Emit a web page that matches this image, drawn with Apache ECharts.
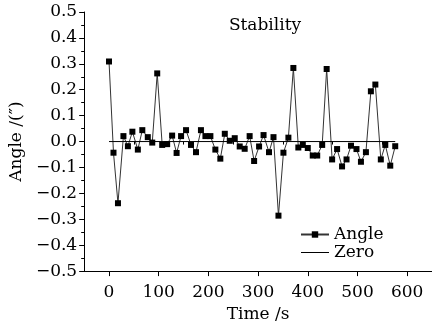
<!DOCTYPE html>
<html>
<head>
<meta charset="utf-8">
<script src="https://cdn.jsdelivr.net/npm/echarts@6/dist/echarts.min.js"></script>
<style>
html,body{margin:0;padding:0;background:#fff;}
#c{width:432px;height:328px;}
</style>
</head>
<body>
<div id="c"></div>
<script>
const titleText = 'Stability';
const xName = 'Time /s';
const yName = 'Angle /(\u2033)';
const seriesNames = ['Angle', 'Zero'];
const times = [0, 9, 18, 29, 38, 47, 58, 67, 78, 87, 97, 107, 117, 127, 136, 145, 155, 165, 175, 185,
  194, 204, 214, 224, 233, 243, 253, 263, 273, 283, 292, 302, 311, 322, 331, 341, 351, 361, 371, 381,
  390, 400, 410, 419, 429, 438, 449, 459, 469, 478, 487, 498, 507, 517, 527, 536, 547, 556, 566, 576];
const angles = [0.309, -0.043, -0.238, 0.021, -0.018, 0.038, -0.031, 0.044, 0.017, -0.004,
  0.263, -0.013, -0.010, 0.023, -0.044, 0.021, 0.044, -0.013, -0.041, 0.044,
  0.021, 0.021, -0.031, -0.066, 0.030, 0.003, 0.013, -0.019, -0.028, 0.021,
  -0.075, -0.019, 0.025, -0.041, 0.017, -0.286, -0.043, 0.015, 0.284, -0.023,
  -0.013, -0.025, -0.054, -0.054, -0.013, 0.280, -0.069, -0.029, -0.096, -0.069,
  -0.016, -0.029, -0.078, -0.041, 0.194, 0.220, -0.069, -0.013, -0.093, -0.018];
const zeroTimes = [0, 576];
const zeroValues = [0, 0];
const xMajorTicks = [0, 100, 200, 300, 400, 500, 600];
const xMinorTicks = [50, 150, 250, 350, 450, 550];

const font = 'DejaVu Serif';
const ink = '#000';
const chart = echarts.init(document.getElementById('c'), null, {renderer: 'canvas'});
chart.setOption({
  backgroundColor: '#fff',
  animation: false,
  title: {
    text: titleText, left: 260, top: 12, textAlign: 'center',
    textStyle: {fontFamily: font, fontSize: 17, fontWeight: 'normal', color: ink}
  },
  legend: {
    orient: 'vertical', left: 295, top: 221, itemWidth: 28, itemHeight: 8, itemGap: 1,
    symbolKeepAspect: true,
    data: [
      {name: seriesNames[0]},
      {name: seriesNames[1], icon: 'path://M0,0 L28,0 L28,1 L0,1 Z'}
    ],
    textStyle: {fontFamily: font, fontSize: 17, color: ink}
  },
  grid: {left: 77, top: 12, width: 356, height: 261, containLabel: false},
  xAxis: [{
    type: 'value', min: -50, max: 650,
    name: xName, nameLocation: 'middle', nameGap: 33,
    nameTextStyle: {fontFamily: font, fontSize: 17, color: ink},
    axisLine: {show: true, onZero: false, lineStyle: {color: ink, width: 1}},
    axisTick: {show: true, inside: false, length: 5, customValues: xMajorTicks, lineStyle: {color: ink}},
    axisLabel: {customValues: xMajorTicks, margin: 13, fontFamily: font, fontSize: 17, color: ink},
    splitLine: {show: false}
  }, {
    type: 'value', min: -50, max: 650, position: 'bottom',
    axisLine: {show: false},
    axisTick: {show: true, inside: false, length: 3, customValues: xMinorTicks, lineStyle: {color: ink}},
    axisLabel: {show: false},
    splitLine: {show: false}
  }],
  yAxis: {
    type: 'value', min: -0.5, max: 0.5, interval: 0.1,
    name: yName, nameLocation: 'middle', nameGap: 50, nameRotate: 90,
    nameTextStyle: {fontFamily: font, fontSize: 17, color: ink},
    axisLine: {show: true, onZero: false, lineStyle: {color: ink, width: 1}},
    axisTick: {show: true, inside: false, length: 5, lineStyle: {color: ink}},
    minorTick: {show: true, splitNumber: 2, length: 3, lineStyle: {color: ink}},
    axisLabel: {
      margin: 7, fontFamily: font, fontSize: 17, color: ink,
      formatter: v => (v < -1e-9 ? '\u2212' : '') + Math.abs(v).toFixed(1)
    },
    splitLine: {show: false}
  },
  series: [{
    name: seriesNames[0], type: 'line', xAxisIndex: 0,
    data: times.map((t, i) => [t, angles[i]]),
    symbol: 'rect', symbolSize: 6, showAllSymbol: true,
    lineStyle: {color: '#333', width: 1},
    itemStyle: {color: ink}
  }, {
    name: seriesNames[1], type: 'line', xAxisIndex: 0,
    data: zeroTimes.map((t, i) => [t, zeroValues[i]]),
    symbol: 'none',
    lineStyle: {color: ink, width: 1},
    itemStyle: {color: ink}
  }]
});
</script>
</body>
</html>
